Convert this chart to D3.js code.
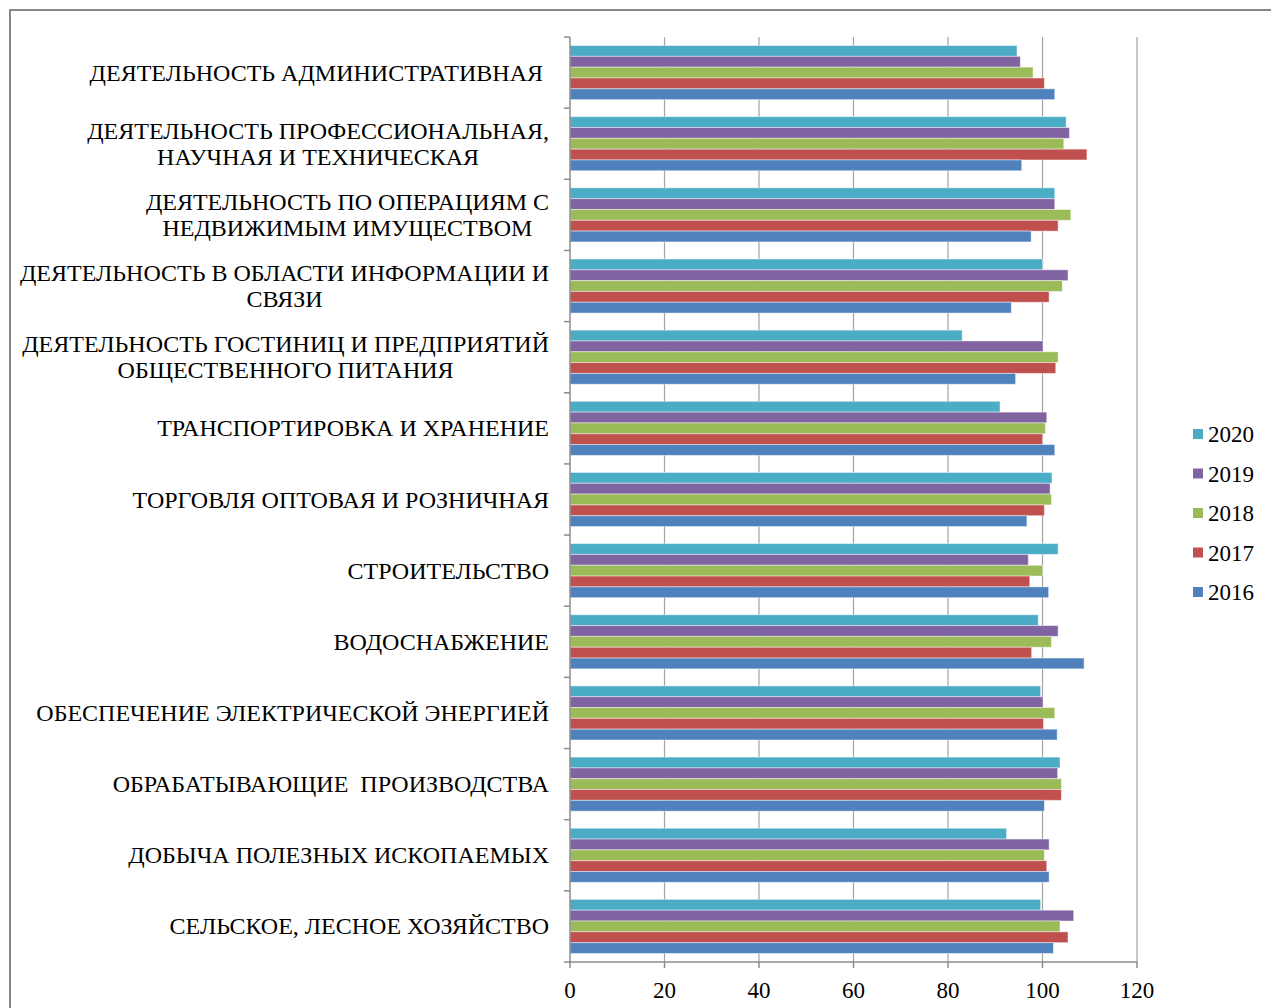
<!DOCTYPE html>
<html>
<head>
    <meta charset="utf-8">
    <title>Индексы по видам деятельности</title>
    <!-- fetch the D3js library -->
    <script src="https://d3js.org/d3.v7.min.js"></script>
    <style>
        body {
            margin: 0;
            background: #ffffff;
        }
        svg text {
            font-family: "Liberation Serif", "Times New Roman", serif;
            fill: #000000;
            white-space: pre;
        }
    </style>
</head>
<body>
<script>
    // categories, top to bottom, each split into its printed lines
    const categories = [
        ["ДЕЯТЕЛЬНОСТЬ АДМИНИСТРАТИВНАЯ "],
        ["ДЕЯТЕЛЬНОСТЬ ПРОФЕССИОНАЛЬНАЯ,", "НАУЧНАЯ И ТЕХНИЧЕСКАЯ"],
        ["ДЕЯТЕЛЬНОСТЬ ПО ОПЕРАЦИЯМ С", "НЕДВИЖИМЫМ ИМУЩЕСТВОМ"],
        ["ДЕЯТЕЛЬНОСТЬ В ОБЛАСТИ ИНФОРМАЦИИ И", "СВЯЗИ"],
        ["ДЕЯТЕЛЬНОСТЬ ГОСТИНИЦ И ПРЕДПРИЯТИЙ", "ОБЩЕСТВЕННОГО ПИТАНИЯ"],
        ["ТРАНСПОРТИРОВКА И ХРАНЕНИЕ"],
        ["ТОРГОВЛЯ ОПТОВАЯ И РОЗНИЧНАЯ"],
        ["СТРОИТЕЛЬСТВО"],
        ["ВОДОСНАБЖЕНИЕ"],
        ["ОБЕСПЕЧЕНИЕ ЭЛЕКТРИЧЕСКОЙ ЭНЕРГИЕЙ"],
        ["ОБРАБАТЫВАЮЩИЕ  ПРОИЗВОДСТВА"],
        ["ДОБЫЧА ПОЛЕЗНЫХ ИСКОПАЕМЫХ"],
        ["СЕЛЬСКОЕ, ЛЕСНОЕ ХОЗЯЙСТВО"]
    ];

    // series, in the order they are stacked inside a group (and in the legend)
    const years = ["2020", "2019", "2018", "2017", "2016"];

    // values per year, same order as categories
    const v2020 = [94.6, 105.0, 102.6, 100.0, 83.0, 91.0, 102.0, 103.3, 99.1, 99.6, 103.7, 92.4, 99.6];
    const v2019 = [95.3, 105.7, 102.6, 105.4, 100.1, 100.9, 101.6, 97.0, 103.3, 100.1, 103.2, 101.4, 106.6];
    const v2018 = [98.0, 104.5, 106.0, 104.2, 103.3, 100.6, 101.9, 100.0, 101.9, 102.6, 104.0, 100.4, 103.7];
    const v2017 = [100.4, 109.4, 103.3, 101.4, 102.8, 100.0, 100.4, 97.3, 97.7, 100.2, 104.0, 100.9, 105.4];
    const v2016 = [102.6, 95.6, 97.6, 93.4, 94.3, 102.6, 96.7, 101.3, 108.8, 103.1, 100.4, 101.4, 102.3];

    const xTicks = [0, 20, 40, 60, 80, 100, 120];

    const seriesValues = {"2020": v2020, "2019": v2019, "2018": v2018, "2017": v2017, "2016": v2016};
    const colors = {"2020": "#4BACC6", "2019": "#8064A2", "2018": "#9BBB59", "2017": "#C0504D", "2016": "#4F81BD"};

    const width = 1271;
    const height = 1008;
    const plot = {left: 570, right: 1137, top: 37, bottom: 962};

    const svg = d3.select("body")
        .append("svg")
        .attr("width", width)
        .attr("height", height);

    // outer chart frame (runs off the right and bottom edges)
    svg.append("rect")
        .attr("x", 10)
        .attr("y", 10)
        .attr("width", width + 20)
        .attr("height", height + 20)
        .attr("fill", "#ffffff")
        .attr("stroke", "#878787")
        .attr("stroke-width", 2);

    const catIndex = d3.range(categories.length);

    const x = d3.scaleLinear()
        .domain([0, 120])
        .range([plot.left, plot.right]);

    const y = d3.scaleBand()
        .domain(catIndex)
        .range([plot.top, plot.bottom])
        .paddingInner(0.24)
        .paddingOuter(0.12);

    const ySub = d3.scaleBand()
        .domain(years)
        .range([0, y.bandwidth()]);

    // vertical gridlines
    svg.append("g")
        .selectAll("line")
        .data(xTicks.slice(1))
        .enter()
        .append("line")
        .attr("x1", d => x(d))
        .attr("x2", d => x(d))
        .attr("y1", plot.top)
        .attr("y2", plot.bottom)
        .attr("stroke", "#a3a3a3")
        .attr("stroke-width", 1.2);

    // bars
    const groups = svg.append("g")
        .selectAll("g")
        .data(catIndex)
        .enter()
        .append("g")
        .attr("transform", i => "translate(0," + y(i) + ")");

    groups.selectAll("rect")
        .data(i => years.map(yr => ({year: yr, value: seriesValues[yr][i]})))
        .enter()
        .append("rect")
        .attr("x", x(0))
        .attr("y", d => ySub(d.year))
        .attr("width", d => x(d.value) - x(0))
        .attr("height", ySub.bandwidth())
        .attr("fill", d => colors[d.year])
        .attr("stroke", "rgba(255,255,255,0.45)")
        .attr("stroke-width", 1);

    // left axis with ticks between groups
    const step = y.step();
    const boundaries = catIndex.map(i => y(i) - step * y.paddingInner() / 2);
    boundaries.push(plot.bottom);

    svg.append("line")
        .attr("x1", plot.left)
        .attr("x2", plot.left)
        .attr("y1", plot.top)
        .attr("y2", plot.bottom)
        .attr("stroke", "#8c8c8c")
        .attr("stroke-width", 1.5);

    svg.append("g")
        .selectAll("line")
        .data(boundaries)
        .enter()
        .append("line")
        .attr("x1", plot.left - 6)
        .attr("x2", plot.left)
        .attr("y1", d => d)
        .attr("y2", d => d)
        .attr("stroke", "#8c8c8c")
        .attr("stroke-width", 1.5);

    // bottom axis
    svg.append("line")
        .attr("x1", plot.left)
        .attr("x2", plot.right)
        .attr("y1", plot.bottom)
        .attr("y2", plot.bottom)
        .attr("stroke", "#8c8c8c")
        .attr("stroke-width", 1.5);

    svg.append("g")
        .selectAll("line")
        .data(xTicks)
        .enter()
        .append("line")
        .attr("x1", d => x(d))
        .attr("x2", d => x(d))
        .attr("y1", plot.bottom)
        .attr("y2", plot.bottom + 6)
        .attr("stroke", "#8c8c8c")
        .attr("stroke-width", 1.5);

    svg.append("g")
        .selectAll("text")
        .data(xTicks)
        .enter()
        .append("text")
        .attr("x", d => x(d))
        .attr("y", 998)
        .attr("text-anchor", "middle")
        .style("font-size", "23px")
        .text(d => d);

    // category labels: lines centred on each other, block right-aligned
    const labelRight = 549;
    const lineHeight = 26;
    catIndex.forEach(function (i) {
        const lines = categories[i];
        const cy = y(i) + y.bandwidth() / 2;
        const g = svg.append("g");
        const texts = lines.map(function (ln, k) {
            return g.append("text")
                .attr("y", cy + (k - (lines.length - 1) / 2) * lineHeight + 8)
                .attr("text-anchor", "middle")
                .style("font-size", "24px")
                .text(ln);
        });
        const maxW = d3.max(texts, t => t.node().getComputedTextLength());
        texts.forEach(t => t.attr("x", labelRight - maxW / 2));
    });

    // legend
    const legend = svg.append("g")
        .selectAll("g")
        .data(years)
        .enter()
        .append("g")
        .attr("transform", (d, k) => "translate(1193," + (434 + k * 39.5) + ")");

    legend.append("rect")
        .attr("x", 0)
        .attr("y", -5)
        .attr("width", 10)
        .attr("height", 10)
        .attr("fill", d => colors[d]);

    legend.append("text")
        .attr("x", 15)
        .attr("y", 8)
        .style("font-size", "23px")
        .text(d => d);
</script>
</body>
</html>
